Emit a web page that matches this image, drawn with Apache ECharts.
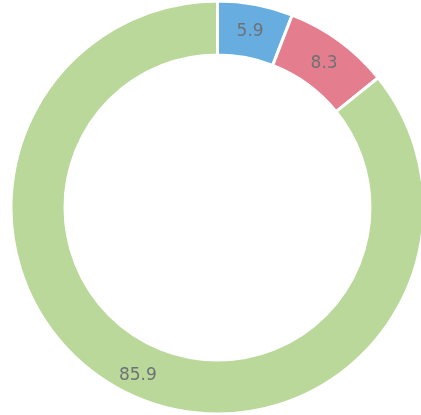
<!DOCTYPE html>
<html>
<head>
<meta charset="utf-8">
<script src="https://cdn.jsdelivr.net/npm/echarts@6/dist/echarts.min.js"></script>
<style>
  html, body { margin: 0; padding: 0; background: #fff; }
  #chart { width: 421px; height: 415px; }
</style>
</head>
<body>
<div id="chart"></div>
<script>
// Segment names, values and fill colours for the ring
const categories = ['A', 'B', 'C'];
const values = [5.9, 8.3, 85.9];
const colors = ['#68ade0', '#e47e8e', '#bad89a'];

const chart = echarts.init(document.getElementById('chart'));

chart.setOption({
  animation: false,
  series: [{
    type: 'pie',
    center: [217.5, 207.5],
    radius: [152.5, 206.5],
    startAngle: 90,
    clockwise: true,
    avoidLabelOverlap: false,
    data: categories.map((name, i) => ({
      name: name,
      value: values[i],
      itemStyle: { color: colors[i] }
    })),
    itemStyle: { borderColor: '#fff', borderWidth: 3 },
    label: {
      show: true,
      position: 'inside',
      formatter: p => p.value.toFixed(1),
      color: '#6e7276',
      fontSize: 17,
      fontFamily: 'DejaVu Sans',
      offset: [-1, 3]
    },
    labelLine: { show: false },
    emphasis: { disabled: true }
  }]
});
</script>
</body>
</html>
